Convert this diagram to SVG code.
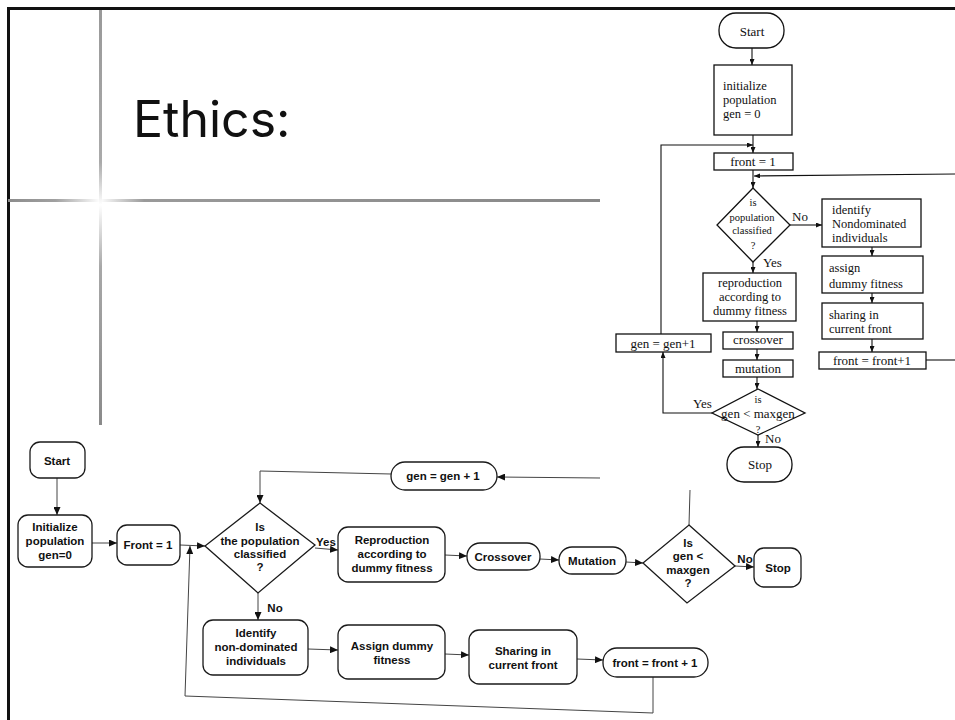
<svg xmlns="http://www.w3.org/2000/svg" width="955" height="720" viewBox="0 0 955 720">
<defs>
<style>
.bn{fill:#fff;stroke:#1a1a1a;stroke-width:1.3}
.bl{fill:none;stroke:#444;stroke-width:1}
.bt{font-family:"Liberation Sans",Arial,sans-serif;font-weight:bold;font-size:11.5px;fill:#111;text-anchor:middle}
.tn{fill:#fff;stroke:#111;stroke-width:1.3}
.tl{fill:none;stroke:#111;stroke-width:1.1}
.tt{font-family:"Liberation Serif","Times New Roman",serif;font-size:13px;fill:#111}
.tm{font-size:12.5px}
.tc{text-anchor:middle}
.ts{font-size:10.5px}
</style>
<marker id="ab" viewBox="0 0 8 7" refX="8" refY="3.5" markerWidth="8" markerHeight="7" markerUnits="userSpaceOnUse" orient="auto"><path d="M0,0 L8,3.5 L0,7 z" fill="#111"/></marker>
<marker id="at" viewBox="0 0 6 5" refX="6" refY="2.5" markerWidth="6" markerHeight="5" markerUnits="userSpaceOnUse" orient="auto"><path d="M0,0 L6,2.5 L0,5 z" fill="#111"/></marker>
<linearGradient id="gh" gradientUnits="userSpaceOnUse" x1="8" y1="0" x2="600" y2="0">
<stop offset="0" stop-color="#8c8c8c"/><stop offset="0.08" stop-color="#a0a0a0"/><stop offset="0.155" stop-color="#ffffff"/><stop offset="0.23" stop-color="#9a9a9a"/><stop offset="1" stop-color="#888"/>
</linearGradient>
<linearGradient id="gv" gradientUnits="userSpaceOnUse" x1="0" y1="8" x2="0" y2="425">
<stop offset="0" stop-color="#999"/><stop offset="0.37" stop-color="#aaa"/><stop offset="0.472" stop-color="#ffffff"/><stop offset="0.62" stop-color="#a8a8a8"/><stop offset="1" stop-color="#8a8a8a"/>
</linearGradient>
</defs>
<rect width="955" height="720" fill="#fff"/>
<g id="frame">
<path d="M8.5,720 L8.5,8.5 L955,8.5" fill="none" stroke="#111" stroke-width="3"/>
<line x1="8" y1="200.5" x2="600" y2="200.5" stroke="url(#gh)" stroke-width="3"/>
<line x1="100.5" y1="10" x2="100.5" y2="425" stroke="url(#gv)" stroke-width="3"/>
<text x="133" y="137" font-family="Inter,'Liberation Sans',sans-serif" font-size="50" fill="#111">Ethics:</text>
</g>

<!-- Top-right flowchart -->
<g id="connectors-top">
<line class="tl" x1="752" y1="48" x2="752" y2="65" marker-end="url(#at)"/>
<line class="tl" x1="753" y1="135" x2="753" y2="153" marker-end="url(#at)"/>
<line class="tl" x1="753" y1="170" x2="753" y2="188" marker-end="url(#at)"/>
<path class="tl" d="M955,174 L754,176" marker-end="url(#at)"/>
<line class="tl" x1="790" y1="225" x2="822" y2="225" marker-end="url(#at)"/>
<line class="tl" x1="872" y1="247" x2="872" y2="256" marker-end="url(#at)"/>
<line class="tl" x1="872" y1="293" x2="872" y2="303" marker-end="url(#at)"/>
<line class="tl" x1="872" y1="339" x2="872" y2="352" marker-end="url(#at)"/>
<line class="tl" x1="926" y1="360" x2="955" y2="360"/>
<line class="tl" x1="753" y1="262" x2="753" y2="273" marker-end="url(#at)"/>
<line class="tl" x1="757" y1="321" x2="757" y2="332" marker-end="url(#at)"/>
<line class="tl" x1="757" y1="349" x2="757" y2="360" marker-end="url(#at)"/>
<line class="tl" x1="757" y1="377" x2="757" y2="389" marker-end="url(#at)"/>
<path class="tl" d="M712,413 L663,413 L663,352" marker-end="url(#at)"/>
<path class="tl" d="M661,334 L661,145 L753,145" marker-end="url(#at)"/>
<line class="tl" x1="758" y1="435" x2="758" y2="447" marker-end="url(#at)"/>
<text class="tt" x="792" y="221">No</text>
<text class="tt" x="763" y="267">Yes</text>
<text class="tt" x="693" y="408">Yes</text>
<text class="tt" x="765" y="443">No</text>
</g>
<g id="t-start"><rect class="tn" x="719" y="13" width="65" height="35" rx="17"/><text class="tt tc" x="752" y="35.5">Start</text></g>
<g id="t-init"><rect class="tn" x="714" y="65" width="78" height="70"/>
<text class="tt tm" x="723" y="90">initialize</text><text class="tt tm" x="723" y="104">population</text><text class="tt tm" x="723" y="118">gen = 0</text></g>
<g id="t-front1"><rect class="tn" x="714" y="153" width="79" height="17"/><text class="tt tc" x="753" y="166">front = 1</text></g>
<g id="t-classified"><polygon class="tn" points="753,188 790,225 753,262 717,225"/>
<text class="tt tc ts" x="753" y="206">is</text><text class="tt tc ts" x="752" y="220.5">population</text><text class="tt tc ts" x="752" y="233.5">classified</text><text class="tt tc ts" x="753" y="249">?</text></g>
<g id="t-identify"><rect class="tn" x="822" y="199" width="99" height="48"/>
<text class="tt tm" x="832" y="214">identify</text><text class="tt tm" x="832" y="228">Nondominated</text><text class="tt tm" x="832" y="242">individuals</text></g>
<g id="t-assign"><rect class="tn" x="822" y="256" width="101" height="37"/>
<text class="tt tm" x="829" y="272">assign</text><text class="tt tm" x="829" y="288">dummy fitness</text></g>
<g id="t-sharing"><rect class="tn" x="822" y="303" width="101" height="36"/>
<text class="tt tm" x="829" y="319">sharing in</text><text class="tt tm" x="829" y="333">current front</text></g>
<g id="t-frontplus"><rect class="tn" x="819" y="352" width="107" height="17"/><text class="tt tc" x="872" y="365">front = front+1</text></g>
<g id="t-repro"><rect class="tn" x="703" y="273" width="93" height="48"/>
<text class="tt tm tc" x="750" y="287">reproduction</text><text class="tt tm tc" x="750" y="301">according to</text><text class="tt tm tc" x="750" y="315">dummy fitness</text></g>
<g id="t-crossover"><rect class="tn" x="723" y="332" width="70" height="17"/><text class="tt tc" x="758" y="344">crossover</text></g>
<g id="t-mutation"><rect class="tn" x="723" y="360" width="70" height="17"/><text class="tt tc" x="758" y="373">mutation</text></g>
<g id="t-maxgen"><polygon class="tn" points="758,389 805,413 758,435 712,413"/>
<text class="tt tc ts" x="758" y="403">is</text><text class="tt tc" x="758" y="418" font-size="12">gen &lt; maxgen</text><text class="tt tc ts" x="758" y="433">?</text></g>
<g id="t-gen"><rect class="tn" x="616" y="334" width="95" height="18"/><text class="tt tc" x="663" y="347.5">gen = gen+1</text></g>
<g id="t-stop"><rect class="tn" x="727" y="447" width="65" height="35" rx="17"/><text class="tt tc" x="760" y="469">Stop</text></g>

<!-- Bottom flowchart -->
<g id="connectors-bottom">
<line class="bl" x1="57" y1="478" x2="57" y2="515" marker-end="url(#ab)"/>
<line class="bl" x1="92" y1="543" x2="117" y2="543" marker-end="url(#ab)"/>
<line class="bl" x1="180" y1="545" x2="205" y2="546" marker-end="url(#ab)"/>
<path class="bl" d="M391,474 L260,471 L260,503" marker-end="url(#ab)"/>
<line class="bl" x1="600" y1="478" x2="497" y2="477" marker-end="url(#ab)"/>
<line class="bl" x1="690" y1="490" x2="689" y2="525"/>
<line class="bl" x1="315" y1="548" x2="338" y2="550" marker-end="url(#ab)"/>
<line class="bl" x1="445" y1="555" x2="467" y2="556" marker-end="url(#ab)"/>
<line class="bl" x1="540" y1="559" x2="559" y2="560" marker-end="url(#ab)"/>
<line class="bl" x1="626" y1="562" x2="643" y2="563" marker-end="url(#ab)"/>
<line class="bl" x1="735" y1="566" x2="754" y2="567" marker-end="url(#ab)"/>
<line class="bl" x1="258" y1="593" x2="258" y2="620" marker-end="url(#ab)"/>
<line class="bl" x1="308" y1="649" x2="338" y2="650" marker-end="url(#ab)"/>
<line class="bl" x1="445" y1="654" x2="469" y2="655" marker-end="url(#ab)"/>
<line class="bl" x1="577" y1="659" x2="603" y2="660" marker-end="url(#ab)"/>
<path class="bl" d="M653,677 L653,713 L185,696 L190,546" marker-end="url(#ab)"/>
<text class="bt" x="326" y="546">Yes</text>
<text class="bt" x="275" y="612">No</text>
<text class="bt" x="745" y="563">No</text>
</g>
<g id="b-start"><rect class="bn" x="30" y="442" width="55" height="36" rx="10"/><text class="bt" x="57" y="465">Start</text></g>
<g id="b-init"><rect class="bn" x="18" y="515" width="74" height="52" rx="10"/>
<text class="bt" x="55" y="531">Initialize</text><text class="bt" x="55" y="545">population</text><text class="bt" x="55" y="559">gen=0</text></g>
<g id="b-front1"><rect class="bn" x="117" y="525" width="63" height="40" rx="10"/><text class="bt" x="148" y="549">Front = 1</text></g>
<g id="b-classified"><polygon class="bn" points="260,503 315,545 258,593 205,546"/>
<text class="bt" x="260" y="531">Is</text><text class="bt" x="260" y="545">the population</text><text class="bt" x="260" y="558">classified</text><text class="bt" x="260" y="571">?</text></g>
<g id="b-gen"><rect class="bn" x="391" y="462" width="106" height="28" rx="14"/><text class="bt" x="443" y="480">gen = gen + 1</text></g>
<g id="b-repro"><rect class="bn" x="338" y="527" width="107" height="55" rx="10"/>
<text class="bt" x="392" y="544">Reproduction</text><text class="bt" x="392" y="558">according to</text><text class="bt" x="392" y="572">dummy fitness</text></g>
<g id="b-crossover"><rect class="bn" x="467" y="543" width="73" height="27" rx="13"/><text class="bt" x="503" y="561">Crossover</text></g>
<g id="b-mutation"><rect class="bn" x="559" y="547" width="67" height="27" rx="13"/><text class="bt" x="592" y="565">Mutation</text></g>
<g id="b-maxgen"><polygon class="bn" points="689,525 735,566 687,603 643,563"/>
<text class="bt" x="688" y="547">Is</text><text class="bt" x="688" y="560">gen &lt;</text><text class="bt" x="688" y="574">maxgen</text><text class="bt" x="688" y="587">?</text></g>
<g id="b-stop"><rect class="bn" x="754" y="548" width="47" height="39" rx="10"/><text class="bt" x="778" y="572">Stop</text></g>
<g id="b-identify"><rect class="bn" x="203" y="620" width="105" height="55" rx="10"/>
<text class="bt" x="256" y="637">Identify</text><text class="bt" x="256" y="651">non-dominated</text><text class="bt" x="256" y="665">individuals</text></g>
<g id="b-assign"><rect class="bn" x="338" y="625" width="107" height="54" rx="10"/>
<text class="bt" x="392" y="650">Assign dummy</text><text class="bt" x="392" y="664">fitness</text></g>
<g id="b-sharing"><rect class="bn" x="469" y="630" width="108" height="54" rx="10"/>
<text class="bt" x="523" y="655">Sharing in</text><text class="bt" x="523" y="669">current front</text></g>
<g id="b-frontplus"><rect class="bn" x="603" y="648" width="105" height="29" rx="14"/><text class="bt" x="655" y="667">front = front + 1</text></g>
</svg>
